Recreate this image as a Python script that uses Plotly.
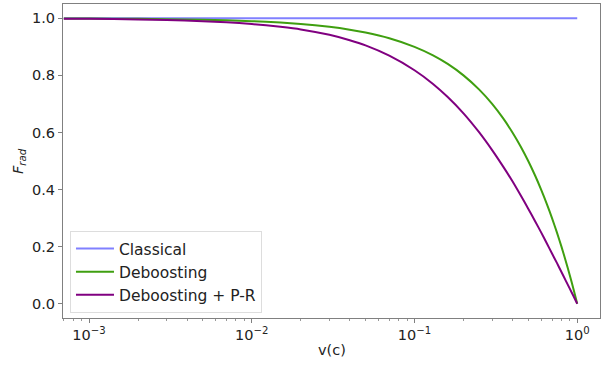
import plotly.graph_objects as go

v = [0.0007, 0.001, 0.002, 0.003, 0.005, 0.007, 0.01, 0.015, 0.02, 0.03, 0.04, 0.05,
     0.07, 0.1, 0.13, 0.16, 0.2, 0.25, 0.3, 0.35, 0.4, 0.45, 0.5, 0.55, 0.6, 0.65,
     0.7, 0.75, 0.8, 0.85, 0.9, 0.95, 1.0]
classical = [1.0] * len(v)
deboosting = [0.9993, 0.999, 0.998, 0.997, 0.995, 0.993, 0.99, 0.985, 0.98, 0.97, 0.96, 0.95,
              0.93, 0.9, 0.87, 0.84, 0.8, 0.75, 0.7, 0.65, 0.6, 0.55, 0.5, 0.45, 0.4, 0.35,
              0.3, 0.25, 0.2, 0.15, 0.1, 0.05, 0.0]
deboosting_pr = [0.9986, 0.998, 0.996, 0.994, 0.990, 0.986, 0.980, 0.970, 0.961, 0.942, 0.923, 0.905,
                 0.869, 0.818, 0.770, 0.724, 0.667, 0.600, 0.538, 0.481, 0.429, 0.379, 0.333, 0.290,
                 0.250, 0.212, 0.176, 0.143, 0.111, 0.081, 0.053, 0.026, 0.0]

x_tickvals = [0.001, 0.01, 0.1, 1]
x_ticktext = ["10<sup>−3</sup>", "10<sup>−2</sup>", "10<sup>−1</sup>", "10<sup>0</sup>"]
x_minor = [0.0007, 0.0008, 0.0009,
           0.002, 0.003, 0.004, 0.005, 0.006, 0.007, 0.008, 0.009,
           0.02, 0.03, 0.04, 0.05, 0.06, 0.07, 0.08, 0.09,
           0.2, 0.3, 0.4, 0.5, 0.6, 0.7, 0.8, 0.9]
y_tickvals = [0.0, 0.2, 0.4, 0.6, 0.8, 1.0]
y_ticktext = ["0.0", "0.2", "0.4", "0.6", "0.8", "1.0"]

FS = 14.5
LFS = 15.5
TXT = "#222222"

fig = go.Figure()
fig.add_trace(go.Scatter(x=v, y=classical, mode="lines", name="Classical",
                         line=dict(color="#8080ff", width=2)))
fig.add_trace(go.Scatter(x=v, y=deboosting, mode="lines", name="Deboosting",
                         line=dict(color="#3f9f10", width=2, shape="spline", smoothing=0.5)))
fig.add_trace(go.Scatter(x=v, y=deboosting_pr, mode="lines", name="Deboosting + P-R",
                         line=dict(color="#800080", width=2, shape="spline", smoothing=0.5)))

axis_common = dict(showline=True, linecolor="#808080", linewidth=1, mirror=True,
                   ticks="outside", ticklen=4, tickcolor="#808080", showgrid=False,
                   zeroline=False, automargin=False, tickfont=dict(size=FS, color=TXT))

fig.update_xaxes(type="log", range=[-3.16, 0.14], tickvals=x_tickvals, ticktext=x_ticktext,
                 minor=dict(ticks="outside", ticklen=2, tickcolor="#999999", showgrid=False,
                            tickvals=x_minor),
                 **axis_common)
fig.update_yaxes(range=[-0.05, 1.05], tickvals=y_tickvals, ticktext=y_ticktext,
                 **axis_common)

fig.add_annotation(text="v(c)", xref="paper", yref="paper", x=0.5, y=-0.0,
                   yshift=-32, xanchor="center", yanchor="middle", showarrow=False,
                   font=dict(size=FS, color=TXT))
fig.add_annotation(text="<i>F</i><sub><i>rad</i></sub>", xref="paper", yref="paper",
                   x=0, y=0.5, xshift=-44, xanchor="center", yanchor="middle",
                   textangle=-90, showarrow=False, font=dict(size=FS, color=TXT))

fig.update_layout(
    width=611, height=365,
    margin=dict(l=63, r=11, t=4, b=47),
    plot_bgcolor="white", paper_bgcolor="white",
    font=dict(family="DejaVu Sans", size=FS, color=TXT),
    legend=dict(x=0.013, y=0.016, xanchor="left", yanchor="bottom",
                bgcolor="rgba(255,255,255,0.85)", bordercolor="#dddddd", borderwidth=1,
                font=dict(size=LFS, color=TXT), itemwidth=38, tracegroupgap=0),
    showlegend=True,
)

fig.write_html("out.html", config={"displayModeBar": False},
               post_script="document.body.style.margin='0';")
